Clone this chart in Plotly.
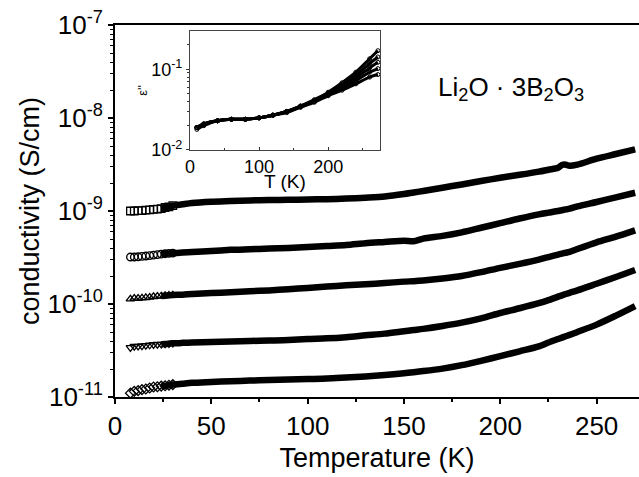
import plotly.graph_objects as go

# ---------------- data ----------------
T = [8, 10, 12, 14, 16, 18, 20, 22, 24, 26, 28, 30, 35, 40, 50, 60, 70, 80, 90, 100,
     110, 120, 130, 140, 150, 155, 160, 170, 180, 190, 200, 210, 220, 225, 230, 232,
     234, 236, 240, 250, 260, 270]

# conductivity (S/cm), five measurement frequencies (top to bottom)
sigma_1 = [1.00e-9, 1.00e-9, 1.01e-9, 1.01e-9, 1.02e-9, 1.03e-9, 1.04e-9, 1.05e-9, 1.06e-9,
           1.09e-9, 1.11e-9, 1.14e-9, 1.18e-9, 1.22e-9, 1.26e-9, 1.28e-9, 1.30e-9, 1.31e-9,
           1.32e-9, 1.33e-9, 1.34e-9, 1.36e-9, 1.39e-9, 1.43e-9, 1.52e-9, 1.58e-9, 1.64e-9,
           1.78e-9, 1.93e-9, 2.10e-9, 2.28e-9, 2.45e-9, 2.65e-9, 2.78e-9, 2.92e-9, 3.12e-9,
           3.15e-9, 3.06e-9, 3.15e-9, 3.65e-9, 4.10e-9, 4.60e-9]
sigma_2 = [3.20e-10, 3.20e-10, 3.22e-10, 3.25e-10, 3.28e-10, 3.32e-10, 3.36e-10, 3.40e-10,
           3.44e-10, 3.47e-10, 3.50e-10, 3.53e-10, 3.58e-10, 3.63e-10, 3.72e-10, 3.82e-10,
           3.88e-10, 3.94e-10, 4.00e-10, 4.10e-10, 4.20e-10, 4.30e-10, 4.50e-10, 4.65e-10,
           4.80e-10, 4.72e-10, 5.05e-10, 5.40e-10, 5.90e-10, 6.60e-10, 7.40e-10, 8.30e-10,
           9.20e-10, 9.60e-10, 1.00e-9, 1.02e-9, 1.04e-9, 1.06e-9, 1.12e-9, 1.25e-9,
           1.40e-9, 1.57e-9]
sigma_3 = [1.13e-10, 1.15e-10, 1.15e-10, 1.16e-10, 1.17e-10, 1.18e-10, 1.20e-10, 1.21e-10,
           1.22e-10, 1.23e-10, 1.24e-10, 1.25e-10, 1.26e-10, 1.28e-10, 1.31e-10, 1.34e-10,
           1.37e-10, 1.40e-10, 1.44e-10, 1.49e-10, 1.54e-10, 1.59e-10, 1.63e-10, 1.68e-10,
           1.74e-10, 1.76e-10, 1.79e-10, 1.88e-10, 2.00e-10, 2.20e-10, 2.45e-10, 2.70e-10,
           3.00e-10, 3.20e-10, 3.40e-10, 3.48e-10, 3.56e-10, 3.64e-10, 3.90e-10, 4.60e-10,
           5.30e-10, 6.20e-10]
sigma_4 = [3.40e-11, 3.50e-11, 3.52e-11, 3.55e-11, 3.58e-11, 3.62e-11, 3.66e-11, 3.68e-11,
           3.70e-11, 3.72e-11, 3.75e-11, 3.78e-11, 3.82e-11, 3.85e-11, 3.90e-11, 3.95e-11,
           4.00e-11, 4.05e-11, 4.10e-11, 4.20e-11, 4.27e-11, 4.40e-11, 4.60e-11, 4.80e-11,
           5.10e-11, 5.25e-11, 5.40e-11, 5.80e-11, 6.30e-11, 7.00e-11, 8.00e-11, 9.00e-11,
           1.02e-10, 1.10e-10, 1.20e-10, 1.24e-10, 1.28e-10, 1.32e-10, 1.40e-10, 1.65e-10,
           1.95e-10, 2.32e-10]
sigma_5 = [1.10e-11, 1.15e-11, 1.17e-11, 1.20e-11, 1.22e-11, 1.25e-11, 1.28e-11, 1.29e-11,
           1.31e-11, 1.32e-11, 1.34e-11, 1.36e-11, 1.39e-11, 1.42e-11, 1.45e-11, 1.48e-11,
           1.50e-11, 1.52e-11, 1.54e-11, 1.56e-11, 1.58e-11, 1.62e-11, 1.66e-11, 1.72e-11,
           1.80e-11, 1.85e-11, 1.90e-11, 2.02e-11, 2.20e-11, 2.45e-11, 2.75e-11, 3.10e-11,
           3.50e-11, 3.85e-11, 4.20e-11, 4.35e-11, 4.50e-11, 4.65e-11, 5.00e-11, 6.00e-11,
           7.50e-11, 9.50e-11]
series = [sigma_1, sigma_2, sigma_3, sigma_4, sigma_5]
symbols = ["square-open", "circle-open", "triangle-up-open", "triangle-down-open", "diamond-open"]

# inset: dielectric loss eps'' vs T
T_in = [10, 20, 40, 60, 80, 100, 120, 140, 160, 180, 200, 220, 240, 260, 272]
eps_a = [0.019, 0.021, 0.023, 0.024, 0.024, 0.025, 0.027, 0.030, 0.035, 0.042, 0.052, 0.068, 0.092, 0.135, 0.170]
eps_b = [0.019, 0.021, 0.023, 0.024, 0.024, 0.025, 0.027, 0.030, 0.035, 0.041, 0.050, 0.064, 0.084, 0.118, 0.142]
eps_c = [0.019, 0.021, 0.023, 0.024, 0.024, 0.025, 0.027, 0.030, 0.035, 0.040, 0.049, 0.061, 0.078, 0.104, 0.122]
eps_d = [0.019, 0.021, 0.023, 0.024, 0.024, 0.025, 0.027, 0.030, 0.034, 0.040, 0.048, 0.058, 0.072, 0.092, 0.102]
eps_e = [0.018, 0.020, 0.023, 0.024, 0.024, 0.025, 0.027, 0.029, 0.034, 0.039, 0.047, 0.055, 0.066, 0.080, 0.086]
inset_series = [eps_a, eps_b, eps_c, eps_d, eps_e]

y_tickvals = [1e-11, 1e-10, 1e-9, 1e-8, 1e-7]
y_ticktext = ["10<sup>-11</sup>", "10<sup>-10</sup>", "10<sup>-9</sup>", "10<sup>-8</sup>", "10<sup>-7</sup>"]
x_tickvals = [0, 50, 100, 150, 200, 250]
in_xtickvals = [0, 100, 200]
in_ytickvals = [0.01, 0.1]
in_yticktext = ["10<sup>-2</sup>", "10<sup>-1</sup>"]

FONT = "Arial, Liberation Sans, sans-serif"

fig = go.Figure()

n_mark = T.index(30) + 1   # open markers visible at low temperature
n_line = T.index(24)       # thick line from here on
for s, sym in zip(series, symbols):
    fig.add_trace(go.Scatter(x=T[n_line:], y=s[n_line:], mode="lines",
                             line=dict(color="black", width=6.5, shape="spline", smoothing=0.8),
                             xaxis="x", yaxis="y", showlegend=False))
    fig.add_trace(go.Scatter(x=T[:n_mark], y=s[:n_mark], mode="markers",
                             marker=dict(symbol=sym, size=7.5, color="black",
                                         line=dict(color="black", width=1.3)),
                             xaxis="x", yaxis="y", showlegend=False))

for e in inset_series:
    fig.add_trace(go.Scatter(x=T_in, y=e, mode="lines+markers",
                             line=dict(color="black", width=3, shape="spline"),
                             marker=dict(symbol="circle-open", size=4, color="black",
                                         line=dict(width=1)),
                             xaxis="x2", yaxis="y2", showlegend=False))

fig.update_layout(
    width=639, height=477,
    margin=dict(l=115, r=0, t=25, b=80),
    paper_bgcolor="white", plot_bgcolor="white",
    font=dict(family=FONT, color="black"),
    xaxis=dict(
        range=[0, 272], tickvals=x_tickvals, ticks="outside", ticklen=5, tickwidth=1.5,
        tickcolor="black", showline=True, linecolor="black", linewidth=2, mirror=True,
        showgrid=False, zeroline=False, tickfont=dict(size=26),
        minor=dict(ticks="outside", ticklen=3, tickwidth=1.5, tickcolor="black", dtick=25, showgrid=False),
        title=dict(text="Temperature (K)", font=dict(size=27), standoff=8),
    ),
    yaxis=dict(
        type="log", range=[-11, -7], tickvals=y_tickvals, ticktext=y_ticktext,
        ticks="outside", ticklen=5, tickwidth=1.5, tickcolor="black",
        showline=True, linecolor="black", linewidth=2, mirror=False,
        showgrid=False, zeroline=False, tickfont=dict(size=26),
        minor=dict(ticks="outside", ticklen=3, tickwidth=1.2, tickcolor="black", dtick="D1", showgrid=False),
        title=dict(text="conductivity (S/cm)", font=dict(size=27), standoff=0),
    ),
    xaxis2=dict(
        domain=[0.1431, 0.5057], anchor="y2", range=[0, 275], tickvals=in_xtickvals,
        ticks="inside", ticklen=3, tickwidth=1, tickcolor="#333",
        showline=True, linecolor="#444", linewidth=1, mirror=True,
        showgrid=False, zeroline=False, tickfont=dict(size=18),
        minor=dict(ticks="inside", ticklen=2, tickcolor="#333", dtick=50, showgrid=False),
    ),
    yaxis2=dict(
        domain=[0.664, 0.984], anchor="x2", type="log", range=[-2, -0.525],
        tickvals=in_ytickvals, ticktext=in_yticktext,
        ticks="outside", ticklen=3, tickwidth=1, tickcolor="#333",
        showline=True, linecolor="#444", linewidth=1, mirror=True,
        showgrid=False, zeroline=False, tickfont=dict(size=18),
        minor=dict(ticks="outside", ticklen=2, tickcolor="#333", dtick="D1", showgrid=False),
        title=dict(text="ε''", font=dict(size=13), standoff=0),
    ),
    annotations=[
        dict(text="Li<sub>2</sub>O · 3B<sub>2</sub>O<sub>3</sub>", x=0.755, y=0.83,
             xref="paper", yref="paper", showarrow=False, font=dict(size=26),
             xanchor="center", yanchor="middle"),
        dict(text="T (K)", x=0.324, y=0.578, xref="paper", yref="paper",
             showarrow=False, font=dict(size=19), xanchor="center", yanchor="middle"),
    ],
)

fig.write_html("out.html", config={"displayModeBar": False},
               post_script="document.body.style.margin='0';document.body.style.overflow='hidden';")
